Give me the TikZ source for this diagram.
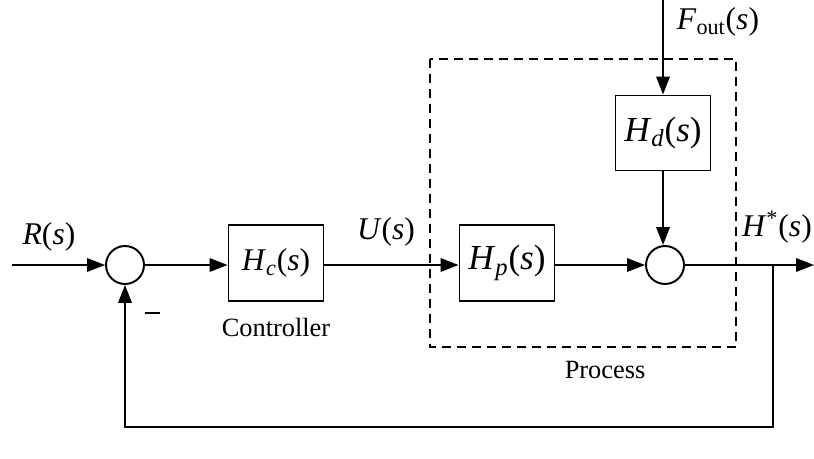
\documentclass[tikz,border=0pt]{standalone}
\usepackage{fontspec}
\setmainfont{Liberation Serif}
\usetikzlibrary{arrows.meta}
\newcommand{\sbs}[1]{\textsubscript{\textit{#1}}}
\begin{document}
\begin{tikzpicture}[x=0.02cm,y=-0.02cm,
  line width=1.1pt,
  arr/.style={-{Triangle[length=0.36cm,width=0.27cm]}},
  blk/.style={draw,minimum width=1.9cm,minimum height=1.52cm,inner sep=0pt,font=\fontsize{18}{21}\selectfont},
  sumc/.style={draw,circle,minimum size=0.76cm,inner sep=0pt},
  lbl/.style={font=\fontsize{18}{21}\selectfont,inner sep=0pt},
  captxt/.style={font=\fontsize{15}{18}\selectfont,inner sep=0pt}]
\useasboundingbox (0,0) rectangle (814,459);
% process frame
\draw[dashed,dash pattern=on 0.18cm off 0.12cm] (430,59) rectangle (736,347);
% nodes
\coordinate (in) at (12,265);
\node[sumc] (s1) at (125,265) {};
\node[blk] (hc) at (276,263) {\textit{H}\sbs{c}(\textit{s})};
\node[blk,font=\fontsize{20}{23}\selectfont] (hp) at (507,263) {\textit{H}\sbs{p}(\textit{s})};
\node[sumc] (s2) at (665,265) {};
\node[blk,minimum height=1.5cm,font=\fontsize{20}{23}\selectfont] (hd) at (663,133) {\textit{H}\sbs{d}(\textit{s})};
\coordinate (ftop) at (663,0);
\coordinate (out) at (814,265);
\coordinate (tap) at (773,265);
\coordinate (fb1) at (773,427);
\coordinate (fb2) at (125,427);
% connectors
\draw[arr] (in) -- (s1.west);
\draw[arr] (s1.east) -- (hc.west |- s1.east);
\draw[arr] (hc.east |- s1.east) -- (hp.west |- s1.east);
\draw[arr] (hp.east |- s2.west) -- (s2.west);
\draw[arr] (ftop) -- (hd.north);
\draw[arr] (hd.south) -- (s2.north -| hd.south);
\draw[arr] (s2.east) -- (out);
\draw[arr] (tap) -- (fb1) -- (fb2) -- (s1.south);
% labels
\node[lbl] (lr) at (49,237) {\textit{R}(\textit{s})};
\node[lbl] (lu) at (386,232) {\textit{U}(\textit{s})};
\node[lbl] (lh) at (777,227) {\textit{H}\textsuperscript{*}(\textit{s})};
\node[lbl] (lf) at (718,22) {\textit{F}\textsubscript{out}(\textit{s})};
\node[captxt] (lc) at (276,327) {Controller};
\node[captxt] (lp) at (605,370) {Process};
\node[lbl] (lm) at (152,313) {\rule{0.3cm}{1.1pt}};
\end{tikzpicture}
\end{document}
